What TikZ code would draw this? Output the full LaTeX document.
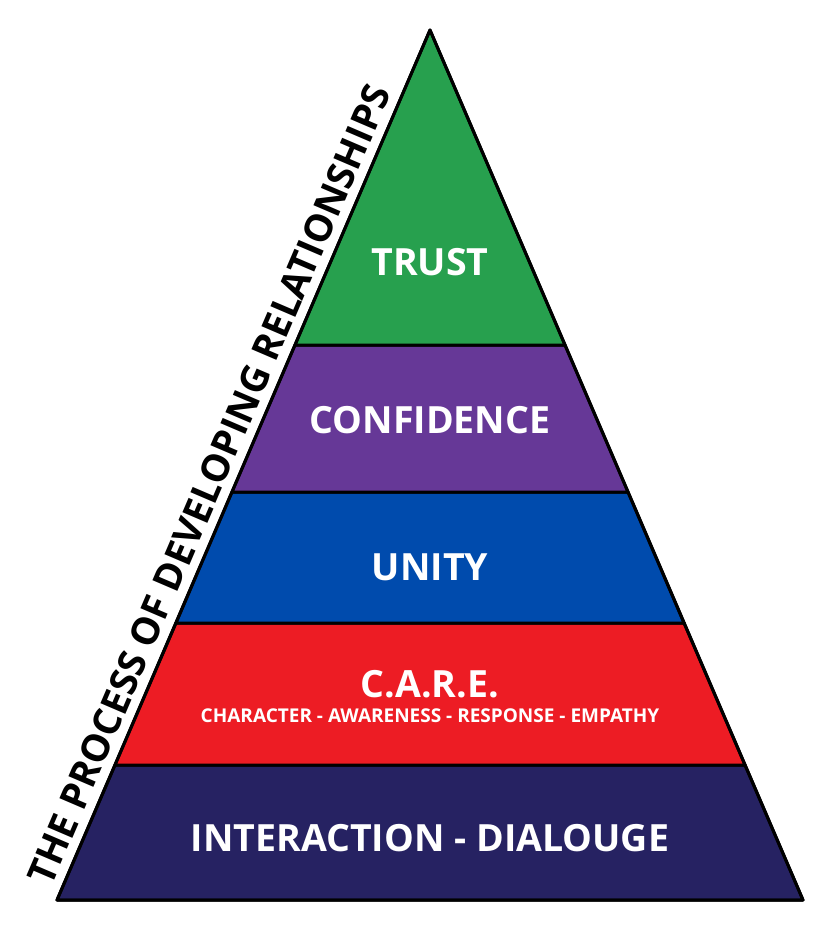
\documentclass[tikz,border=0pt]{standalone}
\usepackage{fontspec}
\setmainfont{Open Sans}
\usepackage{xcolor}
\definecolor{trustgreen}{HTML}{27A04E}
\definecolor{confpurple}{HTML}{663897}
\definecolor{unityblue}{HTML}{004BAD}
\definecolor{carered}{HTML}{ED1C24}
\definecolor{basenavy}{HTML}{262262}
\tikzset{
  layer/.style={draw=black,line width=3pt,line join=round},
  label/.style={text=white,font=\bfseries\fontsize{37.5}{42}\selectfont}
}
\begin{document}
\begin{tikzpicture}[x=1pt,y=-1pt]
\useasboundingbox (0,0) rectangle (830,929);

\fill[layer,fill=basenavy] (115,765) -- (745,765) -- (803,900) -- (57,900) -- cycle;
\fill[layer,fill=carered] (176,623) -- (684,623) -- (745,765) -- (115,765) -- cycle;
\fill[layer,fill=unityblue] (232,492) -- (628,492) -- (684,623) -- (176,623) -- cycle;
\fill[layer,fill=confpurple] (295,345) -- (565,345) -- (628,492) -- (232,492) -- cycle;
\fill[layer,fill=trustgreen] (430,30) -- (565,345) -- (295,345) -- cycle;
\draw[layer] (430,30) -- (803,900) -- (57,900) -- cycle;

\node[label] (trust) at (430,262) {TRUST};
\node[label] (conf) at (430,420) {CONFIDENCE};
\node[label] (unity) at (430,567) {UNITY};
\node[label] (care) at (430,684) {C.A.R.E.};
\node[text=white,font=\bfseries\fontsize{19}{22}\selectfont] (caresub) at (430,716)
  {CHARACTER - AWARENESS - RESPONSE - EMPATHY};
\node[label] (inter) at (430,838) {INTERACTION - DIALOUGE};

\node[rotate=66.8,font=\bfseries\fontsize{38}{42}\selectfont] (side) at (209,485)
  {THE PROCESS OF DEVELOPING RELATIONSHIPS};
\end{tikzpicture}
\end{document}
